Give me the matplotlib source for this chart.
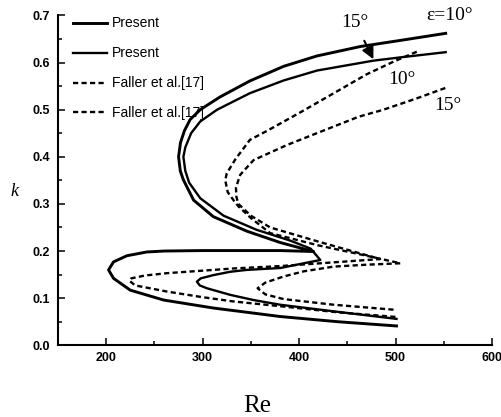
import matplotlib
matplotlib.use("Agg")
import matplotlib.pyplot as plt
from matplotlib.ticker import MultipleLocator, FormatStrFormatter

# Present, eps = 10 deg (outer curve)
re_p10 = [552, 505, 463.5, 418.5, 384, 349, 318, 297.5, 287, 281, 277, 275, 276.8, 280,
          290.6, 311, 346, 380.5, 415, 380, 300, 260, 242, 221.4, 207.6, 202.4, 207.6,
          224.9, 259.5, 311.3, 380.5, 440, 501]
k_p10 = [0.662, 0.647, 0.634, 0.614, 0.592, 0.561, 0.527, 0.500, 0.479, 0.455, 0.430, 0.400,
         0.370, 0.351, 0.308, 0.273, 0.242, 0.218, 0.199, 0.201, 0.201, 0.200, 0.198, 0.190,
         0.177, 0.160, 0.142, 0.117, 0.096, 0.079, 0.061, 0.050, 0.041]

# Present, eps = 15 deg (inner curve)
re_p15 = [552, 505, 477, 418.5, 384, 349, 315, 297.5, 288, 282, 280, 282, 286, 297.5,
          321.7, 356, 391, 412, 422, 400, 380.5, 346, 328.6, 311.3, 298, 294, 297,
          304.4, 328.6, 352.8, 380.5, 440, 501]
k_p15 = [0.622, 0.611, 0.604, 0.583, 0.562, 0.535, 0.500, 0.475, 0.450, 0.420, 0.400, 0.370,
         0.345, 0.312, 0.275, 0.245, 0.222, 0.205, 0.181, 0.172, 0.164, 0.160, 0.156, 0.149,
         0.142, 0.135, 0.127, 0.121, 0.107, 0.096, 0.086, 0.071, 0.056]

# Faller et al. [17], eps = 10 deg
re_f10 = [522, 498, 470, 436, 401, 366.7, 349, 334, 325, 323.4, 326, 333, 337, 350, 370,
          420, 470, 505, 470, 436, 405, 384, 365, 357, 365, 384, 436, 501]
k_f10 = [0.623, 0.602, 0.575, 0.535, 0.494, 0.455, 0.436, 0.395, 0.365, 0.350, 0.325, 0.305,
         0.295, 0.270, 0.238, 0.212, 0.190, 0.174, 0.171, 0.167, 0.157, 0.146, 0.133, 0.121,
         0.108, 0.098, 0.086, 0.075]

# Faller et al. [17], eps = 15 deg
re_f15 = [551.6, 522, 487.6, 461.7, 422, 387.4, 352.8, 339, 334.5, 335, 337, 350, 370, 420,
          484, 450, 422, 380, 332, 263, 240, 226, 224, 230, 263, 300, 332, 380, 440, 501]
k_f15 = [0.546, 0.524, 0.500, 0.485, 0.453, 0.425, 0.393, 0.362, 0.335, 0.315, 0.300, 0.275,
         0.250, 0.220, 0.183, 0.178, 0.174, 0.168, 0.163, 0.153, 0.148, 0.142, 0.137, 0.127,
         0.114, 0.102, 0.093, 0.083, 0.070, 0.060]

labels = ["Present", "Present", "Faller et al.[17]", "Faller et al.[17]"]

fig = plt.figure(figsize=(5.01, 4.17), dpi=100)
ax = fig.add_axes([0.1158, 0.172, 0.8662, 0.791])

ax.plot(re_p10, k_p10, color="black", lw=2.1, label=labels[0])
ax.plot(re_p15, k_p15, color="black", lw=1.7, label=labels[1])
ax.plot(re_f10, k_f10, color="black", lw=1.7, dashes=(2.2, 1.4), label=labels[2])
ax.plot(re_f15, k_f15, color="black", lw=1.7, dashes=(2.2, 1.4), label=labels[3])

ax.set_xlim(150, 600)
ax.set_ylim(0, 0.7)
for side in ("top", "right"):
    ax.spines[side].set_visible(False)
for side in ("left", "bottom"):
    ax.spines[side].set_linewidth(1.5)

ax.xaxis.set_major_locator(MultipleLocator(100))
ax.xaxis.set_minor_locator(MultipleLocator(50))
ax.yaxis.set_major_locator(MultipleLocator(0.1))
ax.yaxis.set_minor_locator(MultipleLocator(0.05))
ax.yaxis.set_major_formatter(FormatStrFormatter("%.1f"))
ax.tick_params(which="both", direction="in", width=1.1)
ax.tick_params(which="major", length=5)
ax.tick_params(which="minor", length=2.7)
ax.tick_params(axis="y", pad=6)
ax.tick_params(axis="x", pad=5)
for lab in ax.get_xticklabels() + ax.get_yticklabels():
    lab.set_fontfamily("Liberation Sans")
    lab.set_fontweight("bold")
    lab.set_fontsize(9)

ax.set_xlabel("Re", fontfamily="Liberation Serif", fontsize=18, x=0.46, labelpad=22)
ax.text(-0.101, 0.465, "k", transform=ax.transAxes, fontfamily="Liberation Serif",
        fontstyle="italic", fontsize=13, ha="center", va="center")

leg = ax.legend(loc="upper left", bbox_to_anchor=(0.018, 1.018), frameon=False,
                handlelength=2.5, handletextpad=0.3, labelspacing=1.15, borderpad=0,
                prop={"family": "Liberation Sans", "size": 10})

serif = {"family": "Liberation Serif", "size": 14}
ax.annotate("15°", xy=(477, 0.607), xytext=(458, 0.686), ha="center", va="center",
            arrowprops=dict(arrowstyle="-|>", color="black", lw=1.5, mutation_scale=18,
                            shrinkA=6, shrinkB=0), **serif)
ax.text(556, 0.700, "ε=10°", ha="center", va="center", **serif)
ax.text(507, 0.564, "10°", ha="center", va="center", **serif)
ax.text(554, 0.509, "15°", ha="center", va="center", **serif)

fig.savefig("out.png", dpi=100)
